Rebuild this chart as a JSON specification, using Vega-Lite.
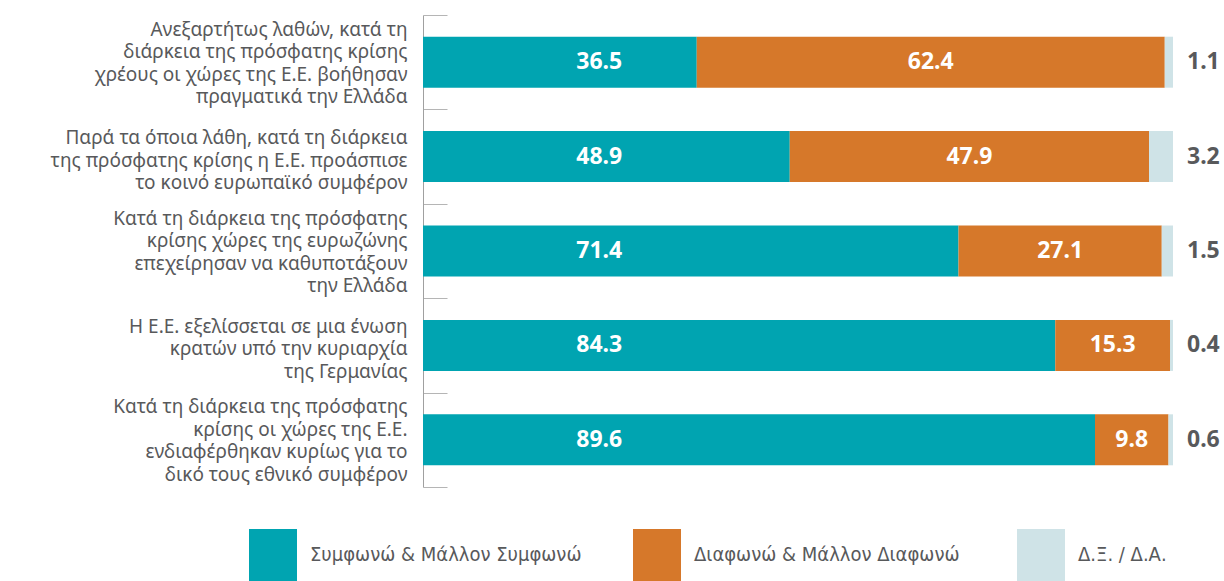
{
  "$schema": "https://vega.github.io/schema/vega-lite/v6.json",
  "width": 750,
  "height": 472,
  "autosize": {"type": "none"},
  "padding": {"left": 423, "top": 15, "right": 51, "bottom": 94},
  "background": "white",
  "config": {"view": {"stroke": null}, "font": "Noto Sans"},
  "data": {
    "values": [
      {"q": "Ανεξαρτήτως λαθών, κατά τη|διάρκεια της πρόσφατης κρίσης|χρέους οι χώρες της Ε.Ε. βοήθησαν|πραγματικά την Ελλάδα", "cat": "Συμφωνώ & Μάλλον Συμφωνώ", "k": 0, "v": 36.5},
      {"q": "Ανεξαρτήτως λαθών, κατά τη|διάρκεια της πρόσφατης κρίσης|χρέους οι χώρες της Ε.Ε. βοήθησαν|πραγματικά την Ελλάδα", "cat": "Διαφωνώ & Μάλλον Διαφωνώ", "k": 1, "v": 62.4},
      {"q": "Ανεξαρτήτως λαθών, κατά τη|διάρκεια της πρόσφατης κρίσης|χρέους οι χώρες της Ε.Ε. βοήθησαν|πραγματικά την Ελλάδα", "cat": "Δ.Ξ. / Δ.Α.", "k": 2, "v": 1.1},
      {"q": "Παρά τα όποια λάθη, κατά τη διάρκεια|της πρόσφατης κρίσης η Ε.Ε. προάσπισε|το κοινό ευρωπαϊκό συμφέρον", "cat": "Συμφωνώ & Μάλλον Συμφωνώ", "k": 0, "v": 48.9},
      {"q": "Παρά τα όποια λάθη, κατά τη διάρκεια|της πρόσφατης κρίσης η Ε.Ε. προάσπισε|το κοινό ευρωπαϊκό συμφέρον", "cat": "Διαφωνώ & Μάλλον Διαφωνώ", "k": 1, "v": 47.9},
      {"q": "Παρά τα όποια λάθη, κατά τη διάρκεια|της πρόσφατης κρίσης η Ε.Ε. προάσπισε|το κοινό ευρωπαϊκό συμφέρον", "cat": "Δ.Ξ. / Δ.Α.", "k": 2, "v": 3.2},
      {"q": "Κατά τη διάρκεια της πρόσφατης|κρίσης χώρες της ευρωζώνης|επεχείρησαν να καθυποτάξουν|την Ελλάδα", "cat": "Συμφωνώ & Μάλλον Συμφωνώ", "k": 0, "v": 71.4},
      {"q": "Κατά τη διάρκεια της πρόσφατης|κρίσης χώρες της ευρωζώνης|επεχείρησαν να καθυποτάξουν|την Ελλάδα", "cat": "Διαφωνώ & Μάλλον Διαφωνώ", "k": 1, "v": 27.1},
      {"q": "Κατά τη διάρκεια της πρόσφατης|κρίσης χώρες της ευρωζώνης|επεχείρησαν να καθυποτάξουν|την Ελλάδα", "cat": "Δ.Ξ. / Δ.Α.", "k": 2, "v": 1.5},
      {"q": "Η Ε.Ε. εξελίσσεται σε μια ένωση|κρατών υπό την κυριαρχία|της Γερμανίας", "cat": "Συμφωνώ & Μάλλον Συμφωνώ", "k": 0, "v": 84.3},
      {"q": "Η Ε.Ε. εξελίσσεται σε μια ένωση|κρατών υπό την κυριαρχία|της Γερμανίας", "cat": "Διαφωνώ & Μάλλον Διαφωνώ", "k": 1, "v": 15.3},
      {"q": "Η Ε.Ε. εξελίσσεται σε μια ένωση|κρατών υπό την κυριαρχία|της Γερμανίας", "cat": "Δ.Ξ. / Δ.Α.", "k": 2, "v": 0.4},
      {"q": "Κατά τη διάρκεια της πρόσφατης|κρίσης οι χώρες της Ε.Ε.|ενδιαφέρθηκαν κυρίως για το|δικό τους εθνικό συμφέρον", "cat": "Συμφωνώ & Μάλλον Συμφωνώ", "k": 0, "v": 89.6},
      {"q": "Κατά τη διάρκεια της πρόσφατης|κρίσης οι χώρες της Ε.Ε.|ενδιαφέρθηκαν κυρίως για το|δικό τους εθνικό συμφέρον", "cat": "Διαφωνώ & Μάλλον Διαφωνώ", "k": 1, "v": 9.8},
      {"q": "Κατά τη διάρκεια της πρόσφατης|κρίσης οι χώρες της Ε.Ε.|ενδιαφέρθηκαν κυρίως για το|δικό τους εθνικό συμφέρον", "cat": "Δ.Ξ. / Δ.Α.", "k": 2, "v": 0.6}
    ]
  },
  "transform": [
    {"stack": "v", "groupby": ["q"], "sort": [{"field": "k", "order": "ascending"}], "as": ["x0", "x1"]},
    {"calculate": "(datum.x0 + datum.x1) / 2", "as": "mid"}
  ],
  "encoding": {
    "y": {
      "field": "q",
      "type": "nominal",
      "sort": null,
      "scale": {"paddingInner": 0, "paddingOuter": 0},
      "axis": {
        "title": null,
        "labelExpr": "split(datum.label, '|')",
        "labelFont": "Noto Sans",
        "labelFontSize": 19,
        "labelLineHeight": 22.5,
        "labelColor": "#58595b",
        "labelLimit": 400,
        "labelPadding": 40,
        "labelOffset": {"condition": {"test": "length(split(datum.value, '|')) == 4", "value": -33}, "value": -19},
        "tickSize": -24,
        "tickBand": "extent",
        "tickColor": "#b5b5b5",
        "domainColor": "#a0a0a0",
        "grid": false
      }
    }
  },
  "layer": [
    {
      "mark": {"type": "bar", "height": {"band": 0.54}},
      "encoding": {
        "x": {"field": "x0", "type": "quantitative", "scale": {"domain": [0, 100]}, "axis": null},
        "x2": {"field": "x1"},
        "color": {
          "field": "cat",
          "type": "nominal",
          "scale": {
            "domain": ["Συμφωνώ & Μάλλον Συμφωνώ", "Διαφωνώ & Μάλλον Διαφωνώ", "Δ.Ξ. / Δ.Α."],
            "range": ["#00a4b1", "#d6782a", "#cfe3e7"]
          },
          "legend": {
            "title": null,
            "orient": "none",
            "legendX": -175,
            "legendY": 515,
            "direction": "horizontal",
            "columns": 3,
            "gridAlign": "all",
            "columnPadding": 50,
            "padding": 0,
            "symbolType": "M-0.96,-1.04H0.96V1.04H-0.96Z",
            "symbolSize": 2500,
            "symbolStrokeWidth": 0,
            "symbolOpacity": 1,
            "labelFont": "Liberation Sans Narrow, DejaVu Sans Condensed, Roboto",
            "labelFontSize": 20,
            "labelColor": "#58595b",
            "labelOffset": 12,
            "labelLimit": 400
          }
        }
      }
    },
    {
      "transform": [{"filter": "datum.k == 0"}],
      "mark": {"type": "text", "color": "white", "fontWeight": "bold", "fontSize": 23, "font": "Noto Sans"},
      "encoding": {
        "x": {"datum": 23.5, "type": "quantitative"},
        "text": {"field": "v", "type": "quantitative", "format": ".1f"}
      }
    },
    {
      "transform": [{"filter": "datum.k == 1"}],
      "mark": {"type": "text", "color": "white", "fontWeight": "bold", "fontSize": 23, "font": "Noto Sans"},
      "encoding": {
        "x": {"field": "mid", "type": "quantitative"},
        "text": {"field": "v", "type": "quantitative", "format": ".1f"}
      }
    },
    {
      "transform": [{"filter": "datum.k == 2"}],
      "mark": {"type": "text", "color": "#58595b", "fontWeight": "bold", "fontSize": 23, "font": "Noto Sans", "align": "left", "dx": 14},
      "encoding": {
        "x": {"datum": 100, "type": "quantitative"},
        "text": {"field": "v", "type": "quantitative", "format": ".1f"}
      }
    }
  ]
}
